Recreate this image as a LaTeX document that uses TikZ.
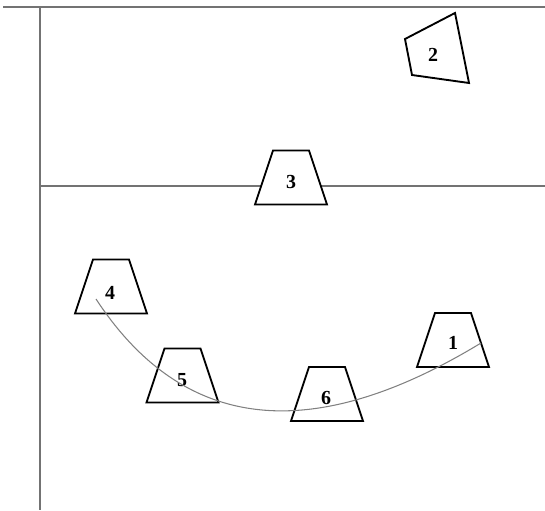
\documentclass[tikz,border=0pt]{standalone}
\usepackage{fontspec}
\setmainfont{Liberation Serif}
\usepackage{tikz}

\tikzset{
  cone/.pic={
    \draw[draw=black, line width=1.6pt, fill=white]
      (-18,-27) -- (18,-27) -- (36,27) -- (-36,27) -- cycle;
  },
  num/.style={font=\fontsize{17}{19}\selectfont\bfseries, inner sep=0pt},
  wall/.style={draw=black!55, line width=2pt}
}

\begin{document}
\begin{tikzpicture}[x=0.03cm, y=-0.03cm]
    \useasboundingbox (0,0) rectangle (545,510);
    % walls
    \coordinate (tl) at (3,7);
    \coordinate (tr) at (545,7);
    \coordinate (corner) at (40,7);
    \coordinate (bot) at (40,510);
    \coordinate (ml) at (40,186);
    \coordinate (mr) at (545,186);
    \draw[wall] (tl) -- (tr);
    \draw[wall] (corner) -- (bot);
    \draw[wall] (ml) -- (mr);
    % cones
    \pic at (453,340) {cone};
    \pic at (291,177.5) {cone};
    \pic at (111,286.5) {cone};
    \pic at (182.5,375.5) {cone};
    \pic at (327,394) {cone};
    \draw[draw=black, line width=1.6pt, fill=white] (455,13) -- (405,39) -- (412,75) -- (469,83) -- cycle;
    \node[num] (1) at (453,343) {1};
    \node[num] (2) at (433,55) {2};
    \node[num] (3) at (291,182) {3};
    \node[num] (4) at (110,293) {4};
    \node[num] (5) at (182,380) {5};
    \node[num] (6) at (326,398) {6};
    % path
    \coordinate (start) at (96,299);
    \coordinate (end) at (481,343);
    \draw[draw=black!50, line width=0.9pt] (start) .. controls (195,450) and (336,431) .. (end);
  \end{tikzpicture}
\end{document}
